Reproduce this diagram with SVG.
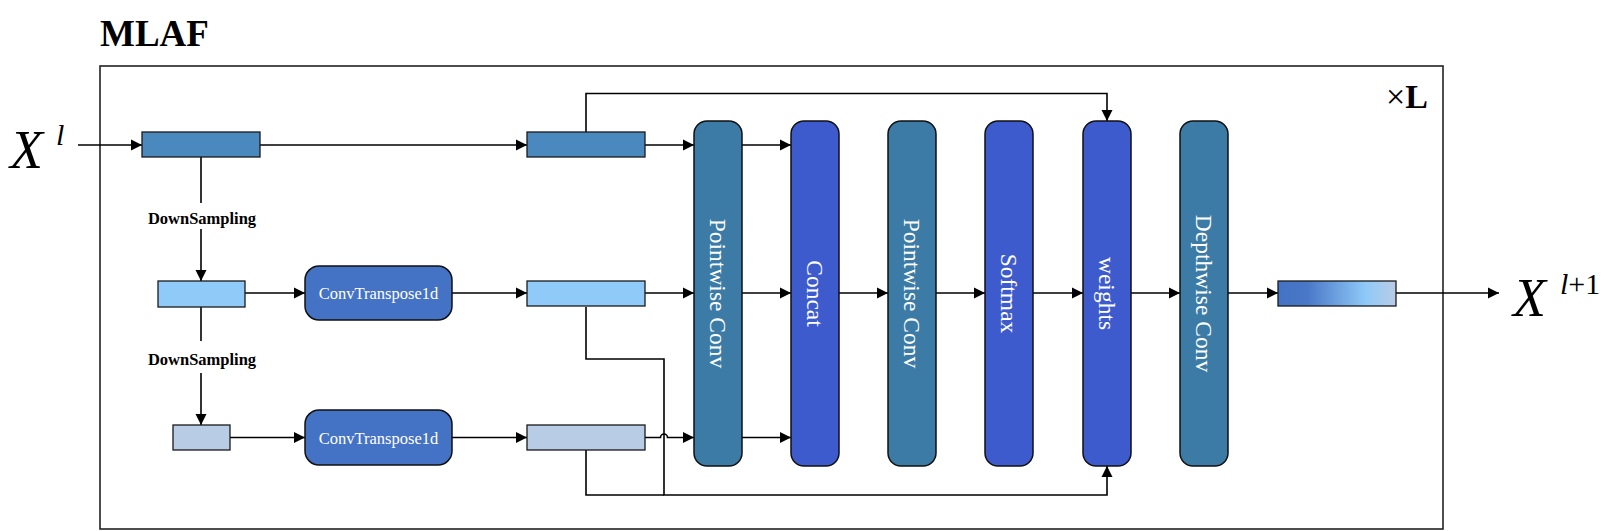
<svg xmlns="http://www.w3.org/2000/svg" width="1614" height="531" viewBox="0 0 1614 531">
<style>
.ln{fill:none;stroke:#000;stroke-width:1.6}
.ar{marker-end:url(#ah)}
.sq{stroke:#1a1a1a;stroke-width:1.3}
.c1{fill:#4A89BE}
.c2{fill:#90CAF9}
.c3{fill:#B8CCE6}
.tall{stroke:#111;stroke-width:1.5}
.teal{fill:#3B7BA6}
.blue{fill:#3D5BCD}
.ct{fill:#4472C4;stroke:#111;stroke-width:1.5}
.wt{font-family:"Liberation Serif","Times New Roman",serif;fill:#fff}
.vt{font-size:23.5px;text-anchor:middle}
.lbl{font-family:"Liberation Serif","Times New Roman",serif;font-weight:bold;font-size:16.5px;text-anchor:middle;fill:#000}
.math{font-family:"Liberation Serif","Times New Roman",serif;fill:#000}
</style>
<defs>
<marker id="ah" markerWidth="12" markerHeight="12" refX="11" refY="6" orient="auto" markerUnits="userSpaceOnUse">
<path d="M0,0.5 L11,6 L0,11.5 z" fill="#000"/>
</marker>
<linearGradient id="grad" x1="0" y1="0" x2="1" y2="0">
<stop offset="0" stop-color="#4472C4"/>
<stop offset="0.25" stop-color="#4A78C8"/>
<stop offset="0.75" stop-color="#90CAF9"/>
<stop offset="1" stop-color="#B8CCE6"/>
</linearGradient>
</defs>
<rect width="1614" height="531" fill="#fff"/>

<g id="title">
<text x="100" y="46" class="math" font-weight="bold" font-size="37">MLAF</text>
</g>
<g id="frame">
<rect x="100" y="66" width="1343" height="463" fill="none" stroke="#222" stroke-width="1.6"/>
<text x="1386" y="108" class="math" font-size="34"><tspan font-weight="normal">×</tspan><tspan font-weight="bold">L</tspan></text>
</g>

<g id="input">
<text x="10" y="168" class="math" font-style="italic" font-size="54">X</text>
<text x="56" y="145" class="math" font-style="italic" font-size="30">l</text>
</g>
<g id="output">
<text x="1513" y="316" class="math" font-style="italic" font-size="54">X</text>
<text x="1560" y="294" class="math" font-size="30"><tspan font-style="italic">l</tspan>+1</text>
</g>

<g id="connectors">
<path class="ln ar" d="M78,145 H142"/>
<path class="ln ar" d="M260,145 H527"/>
<path class="ln ar" d="M645,145 H694"/>
<path class="ln ar" d="M586,132 V93.5 H1107 V121"/>
<path class="ln ar" d="M742,145 H791"/>
<path class="ln ar" d="M742,293 H791"/>
<path class="ln ar" d="M742,437.5 H791"/>
<path class="ln ar" d="M839,293 H888"/>
<path class="ln ar" d="M936,293 H985"/>
<path class="ln ar" d="M1033,293 H1083"/>
<path class="ln ar" d="M1131,293 H1180"/>
<path class="ln ar" d="M1228,293 H1278"/>
<path class="ln ar" d="M1396,293 H1499"/>
<path class="ln" d="M201,157 V203"/>
<path class="ln ar" d="M201,229 V281"/>
<path class="ln ar" d="M245,293 H305"/>
<path class="ln ar" d="M452,293 H527"/>
<path class="ln ar" d="M645,293 H694"/>
<path class="ln" d="M201,307 V341"/>
<path class="ln ar" d="M201,373 V425"/>
<path class="ln ar" d="M230,437.5 H305"/>
<path class="ln ar" d="M452,437.5 H527"/>
<path class="ln ar" d="M645,437.5 H660.5 A3.5,3.5 0 0 1 667.5,437.5 H694"/>
<path class="ln ar" d="M586,307 V359 H664 V495 H1107 V466"/>
<path class="ln" d="M586,450 V495 H664"/>
</g>

<g id="ds1"><text x="202" y="224" class="lbl">DownSampling</text></g>
<g id="ds2"><text x="202" y="365" class="lbl">DownSampling</text></g>

<g id="box1"><rect x="142" y="132" width="118" height="25" class="c1 sq"/></g>
<g id="box2"><rect x="158" y="281" width="87" height="26" class="c2 sq"/></g>
<g id="box3"><rect x="173" y="425" width="57" height="25" class="c3 sq"/></g>

<g id="convT1">
<rect x="305" y="266" width="147" height="54" rx="14" class="ct"/>
<text x="378.5" y="299" class="wt" font-size="16.5" text-anchor="middle">ConvTranspose1d</text>
</g>
<g id="convT2">
<rect x="305" y="410" width="147" height="55" rx="14" class="ct"/>
<text x="378.5" y="443.5" class="wt" font-size="16.5" text-anchor="middle">ConvTranspose1d</text>
</g>

<g id="mid1"><rect x="527" y="132" width="118" height="25" class="c1 sq"/></g>
<g id="mid2"><rect x="527" y="281" width="118" height="25" class="c2 sq"/></g>
<g id="mid3"><rect x="527" y="425" width="118" height="25" class="c3 sq"/></g>

<g id="pwconv1">
<rect x="694" y="121" width="48" height="345" rx="13" class="teal tall"/>
<text transform="translate(718,293.5) rotate(90)" y="8" class="wt vt">Pointwise Conv</text>
</g>
<g id="concat">
<rect x="791" y="121" width="48" height="345" rx="13" class="blue tall"/>
<text transform="translate(815,293.5) rotate(90)" y="8" class="wt vt">Concat</text>
</g>
<g id="pwconv2">
<rect x="888" y="121" width="48" height="345" rx="13" class="teal tall"/>
<text transform="translate(912,293.5) rotate(90)" y="8" class="wt vt">Pointwise Conv</text>
</g>
<g id="softmax">
<rect x="985" y="121" width="48" height="345" rx="13" class="blue tall"/>
<text transform="translate(1009,293.5) rotate(90)" y="8" class="wt vt">Softmax</text>
</g>
<g id="weights">
<rect x="1083" y="121" width="48" height="345" rx="13" class="blue tall"/>
<text transform="translate(1107,293.5) rotate(90)" y="8" class="wt vt">weights</text>
</g>
<g id="dwconv">
<rect x="1180" y="121" width="48" height="345" rx="13" class="teal tall"/>
<text transform="translate(1204,293.5) rotate(90)" y="8" class="wt vt">Depthwise Conv</text>
</g>
<g id="outbox"><rect x="1278" y="281" width="118" height="25" fill="url(#grad)" class="sq"/></g>
</svg>
